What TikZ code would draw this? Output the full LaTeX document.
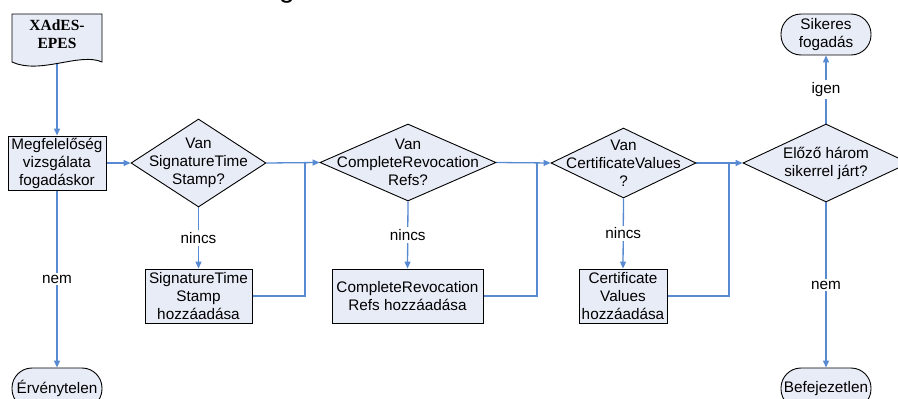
\documentclass[tikz,border=0pt]{standalone}
\usepackage{fontspec}
\setmainfont{Liberation Sans}
\newfontfamily\docfont{Liberation Serif}
\usetikzlibrary{shapes.geometric,arrows.meta}
\definecolor{shapefill}{RGB}{232,236,247}
\definecolor{connblue}{RGB}{88,138,210}
\pgfdeclarelayer{background}
\pgfsetlayers{background,main}
\begin{document}
\begin{tikzpicture}[x=1pt,y=-1pt,
  txt/.style={font=\fontsize{15.3}{18}\selectfont, align=center, inner sep=0pt},
  stepbox/.style={draw=black, fill=shapefill, line width=0.9pt, rectangle, minimum height=54pt, inner sep=0pt, txt},
  decision/.style={draw=black, fill=shapefill, line width=0.9pt, diamond, inner sep=0pt},
  terminal/.style={draw=black, fill=shapefill, line width=0.9pt, rectangle, rounded corners=20pt, minimum width=90pt, minimum height=41pt, inner sep=0pt, txt},
  conn/.style={draw=connblue, line width=1.3pt, -{Triangle[length=7pt,width=6pt]}},
  plainline/.style={draw=connblue, line width=1.3pt},
  lbl/.style={fill=white, inner sep=2pt, font=\fontsize{15.3}{18}\selectfont}
]
\useasboundingbox (0,0) rectangle (898,399);
\clip (0,0) rectangle (898,399);

% title fragment
\node[anchor=base, inner sep=0pt, font=\fontsize{28}{30}\selectfont] (title) at (287,-3) {g};

% document shape
\draw[draw=black, fill=shapefill, line width=0.9pt] (12,14) -- (102,14) -- (102,62) .. controls (80,52) and (40,75) .. (12,62) -- cycle;
\node[inner sep=0pt, minimum width=90pt, minimum height=48pt] (doc) at (57,38) {};
\node[txt, font=\docfont\bfseries\fontsize{15.5}{18}\selectfont] (doctext) at (57,34) {XAdES-\\EPES};

% process boxes
\node[stepbox, minimum width=98pt] (m1) at (57,163) {Megfelelőség\\vizsgálata\\fogadáskor};
\node[stepbox, minimum width=107pt] (b2) at (198.5,296) {SignatureTime\\Stamp\\hozzáadása};
\node[stepbox, minimum width=151pt] (b3) at (407.5,296) {CompleteRevocation\\Refs hozzáadása};
\node[stepbox, minimum width=88pt] (b4) at (623,296) {Certificate\\Values\\hozzáadása};

% decisions
\node[decision, minimum width=135pt, minimum height=88pt] (d1) at (198.5,163) {};
\node[txt] (t1) at (d1.center) {Van\\SignatureTime\\Stamp?};
\node[decision, minimum width=176pt, minimum height=77pt] (d2) at (408,162.5) {};
\node[txt] (t2) at (d2.center) {Van\\CompleteRevocation\\Refs?};
\node[decision, minimum width=145pt, minimum height=70pt] (d3) at (623.5,163) {};
\node[txt] (t3) at (d3.center) {Van\\CertificateValues\\?};
\node[decision, minimum width=166pt, minimum height=78pt] (d4) at (826,163) {};
\node[txt] (t4) at (d4.center) {Előző három\\sikerrel járt?};

% terminals
\node[terminal] (s) at (826,34.5) {Sikeres\\fogadás};
\node[terminal] (e) at (57,388.5) {Érvénytelen};
\node[terminal] (bf) at (826,388.5) {Befejezetlen};

% junctions
\coordinate (j1) at (305,163);
\coordinate (j2) at (537,163);
\coordinate (j3) at (729,163);

\begin{pgfonlayer}{background}
\fill[white] (0,0) rectangle (898,399);
\draw[conn] (doc.center) -- (m1.north);
\draw[conn] (m1.east) -- (d1.west);
\draw[conn] (m1.south) -- node[lbl] {nem} (e.north);
\draw[conn] (d1.south) -- node[lbl] {nincs} (b2.north);
\draw[conn] (d1.east) -- (d2.west);
\draw[plainline] (b2.east) -| (j1);
\draw[conn] (d2.south) -- node[lbl] {nincs} (b3.north);
\draw[conn] (d2.east) -- (d3.west);
\draw[plainline] (b3.east) -| (j2);
\draw[conn] (d3.south) -- node[lbl] {nincs} (b4.north);
\draw[conn] (d3.east) -- (d4.west);
\draw[plainline] (b4.east) -| (j3);
\draw[conn] (d4.north) -- node[lbl] {igen} (s.south);
\draw[conn] (d4.south) -- node[lbl] {nem} (bf.north);
\end{pgfonlayer}
\end{tikzpicture}
\end{document}
